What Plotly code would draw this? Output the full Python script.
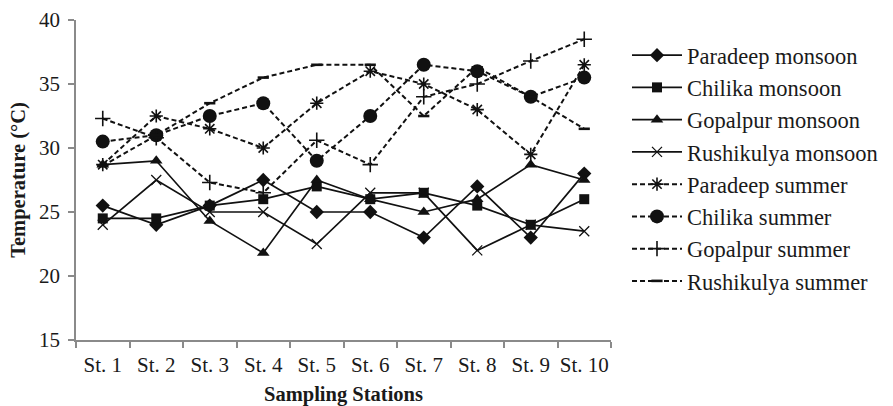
import plotly.graph_objects as go

stations = ["St. 1", "St. 2", "St. 3", "St. 4", "St. 5", "St. 6", "St. 7", "St. 8", "St. 9", "St. 10"]

paradeep_monsoon = [25.5, 24.0, 25.5, 27.5, 25.0, 25.0, 23.0, 27.0, 23.0, 28.0]
chilika_monsoon = [24.5, 24.5, 25.5, 26.0, 27.0, 26.0, 26.5, 25.5, 24.0, 26.0]
gopalpur_monsoon = [28.7, 29.0, 24.3, 21.8, 27.5, 26.0, 25.0, 26.0, 28.7, 27.5]
rushikulya_monsoon = [24.0, 27.5, 25.0, 25.0, 22.5, 26.5, 26.5, 22.0, 24.0, 23.5]
paradeep_summer = [28.7, 32.5, 31.5, 30.0, 33.5, 36.0, 35.0, 33.0, 29.5, 36.5]
chilika_summer = [30.5, 31.0, 32.5, 33.5, 29.0, 32.5, 36.5, 36.0, 34.0, 35.5]
gopalpur_summer = [32.3, 30.8, 27.3, 26.5, 30.6, 28.7, 34.0, 35.0, 36.8, 38.5]
rushikulya_summer = [28.6, 31.0, 33.5, 35.5, 36.5, 36.5, 32.5, 36.3, 34.0, 31.5]

series_names = [
    "Paradeep monsoon", "Chilika monsoon", "Gopalpur monsoon", "Rushikulya monsoon",
    "Paradeep summer", "Chilika summer", "Gopalpur summer", "Rushikulya summer",
]
series_values = [
    paradeep_monsoon, chilika_monsoon, gopalpur_monsoon, rushikulya_monsoon,
    paradeep_summer, chilika_summer, gopalpur_summer, rushikulya_summer,
]

BLACK = "#111111"
styles = [
    dict(symbol="diamond", size=11, dash="solid", mlw=0),
    dict(symbol="square", size=10, dash="solid", mlw=0),
    dict(symbol="triangle-up", size=11, dash="solid", mlw=0),
    dict(symbol="x-thin-open", size=10, dash="solid", mlw=1.3),
    dict(symbol="asterisk-open", size=11, dash="5px,3px", mlw=1.6),
    dict(symbol="circle", size=14, dash="5px,3px", mlw=0),
    dict(symbol="cross-thin-open", size=11, dash="5px,3px", mlw=1.6),
    dict(symbol="line-ew-open", size=8, dash="5px,3px", mlw=2.6),
]

fig = go.Figure()
for i, (name, vals, st) in enumerate(zip(series_names, series_values, styles)):
    fig.add_trace(go.Scatter(
        x=stations, y=vals, name=name, mode="lines+markers",
        legendgroup="g%d" % i,
        line=dict(color=BLACK, width=1.7 if st["dash"] == "solid" else 2.0, dash=st["dash"]),
        marker=dict(symbol=st["symbol"], size=st["size"], color=BLACK,
                    line=dict(color=BLACK, width=st["mlw"])),
    ))

font_family = "Liberation Serif"
AX = "#8a8a8a"
TXT = "#1a1a1a"

fig.update_layout(
    width=893, height=406,
    margin=dict(l=76, r=282, t=20, b=66),
    paper_bgcolor="white", plot_bgcolor="white",
    font=dict(family=font_family, color=TXT, size=21),
    showlegend=True,
    legend=dict(
        xref="container", yref="container",
        x=627 / 893, y=1 - 34 / 406, xanchor="left", yanchor="top",
        font=dict(family=font_family, size=22.5, color=TXT),
        tracegroupgap=0, itemwidth=50, bgcolor="rgba(0,0,0,0)",
        maxheight=1.0,
    ),
    xaxis=dict(
        type="category", range=[-0.5, 9.5], tickson="boundaries",
        showline=True, linecolor=AX, linewidth=1.5, automargin=False,
        ticks="outside", ticklen=6, tickcolor=AX, tickwidth=1.5,
        showgrid=False, zeroline=False, tickangle=0, ticklabelstandoff=5,
        tickfont=dict(family=font_family, size=21, color=TXT),
        title=dict(text="<b>Sampling Stations</b>", standoff=12,
                   font=dict(family=font_family, size=20.5, color=TXT)),
    ),
    yaxis=dict(
        range=[15, 40], tickmode="array", tickvals=[15, 20, 25, 30, 35, 40],
        showline=True, linecolor=AX, linewidth=1.5, automargin=False,
        ticks="outside", ticklen=6, tickcolor=AX, tickwidth=1.5,
        showgrid=False, zeroline=False, ticklabelstandoff=4,
        tickfont=dict(family=font_family, size=21, color=TXT),
        title=dict(text="<b>Temperature (°C)</b>", standoff=8,
                   font=dict(family=font_family, size=20.5, color=TXT)),
    ),
)

fig.write_html("out.html")
